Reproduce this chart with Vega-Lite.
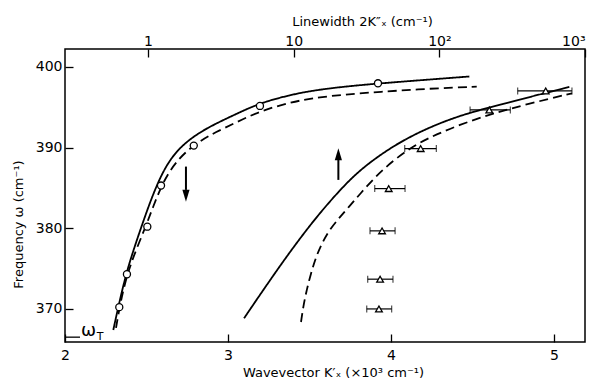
{
  "$schema": "https://vega.github.io/schema/vega-lite/v6.json",
  "width": 520,
  "height": 293,
  "autosize": "none",
  "padding": {"left": 65, "top": 49, "right": 11, "bottom": 39},
  "background": "white",
  "config": {
    "view": {"stroke": "black", "strokeWidth": 1.5},
    "font": "DejaVu Sans",
    "axis": {
      "domain": false, "grid": false,
      "tickColor": "black", "tickSize": -8, "tickWidth": 1.3,
      "labelColor": "black", "labelFont": "DejaVu Sans", "labelFontSize": 14,
      "titleFont": "DejaVu Sans", "titleFontSize": 13, "titleFontWeight": "normal", "titleColor": "black",
      "labelFlush": false, "labelOverlap": false
    }
  },
  "datasets": {
    "curves": [
      {"model": "m1", "branch": "I", "k": 2.2963, "w": 367.39},
      {"model": "m1", "branch": "I", "k": 2.3252, "w": 370.12},
      {"model": "m1", "branch": "I", "k": 2.3742, "w": 374.33},
      {"model": "m1", "branch": "I", "k": 2.4233, "w": 377.50},
      {"model": "m1", "branch": "I", "k": 2.4785, "w": 380.78},
      {"model": "m1", "branch": "I", "k": 2.5337, "w": 383.88},
      {"model": "m1", "branch": "I", "k": 2.5828, "w": 386.24},
      {"model": "m1", "branch": "I", "k": 2.6319, "w": 388.10},
      {"model": "m1", "branch": "I", "k": 2.6871, "w": 389.58},
      {"model": "m1", "branch": "I", "k": 2.7485, "w": 390.76},
      {"model": "m1", "branch": "I", "k": 2.8221, "w": 391.82},
      {"model": "m1", "branch": "I", "k": 2.9080, "w": 392.81},
      {"model": "m1", "branch": "I", "k": 3.0429, "w": 394.11},
      {"model": "m1", "branch": "I", "k": 3.1963, "w": 395.54},
      {"model": "m1", "branch": "I", "k": 3.3804, "w": 396.53},
      {"model": "m1", "branch": "I", "k": 3.5215, "w": 397.09},
      {"model": "m1", "branch": "I", "k": 3.7178, "w": 397.58},
      {"model": "m1", "branch": "I", "k": 3.9202, "w": 397.95},
      {"model": "m1", "branch": "I", "k": 4.2393, "w": 398.45},
      {"model": "m1", "branch": "I", "k": 4.4804, "w": 398.82},
      {"model": "m2", "branch": "I", "k": 2.3129, "w": 367.64},
      {"model": "m2", "branch": "I", "k": 2.3344, "w": 370.20},
      {"model": "m2", "branch": "I", "k": 2.3773, "w": 374.09},
      {"model": "m2", "branch": "I", "k": 2.4356, "w": 377.31},
      {"model": "m2", "branch": "I", "k": 2.4939, "w": 380.16},
      {"model": "m2", "branch": "I", "k": 2.5399, "w": 382.64},
      {"model": "m2", "branch": "I", "k": 2.5890, "w": 385.12},
      {"model": "m2", "branch": "I", "k": 2.6380, "w": 386.98},
      {"model": "m2", "branch": "I", "k": 2.6933, "w": 388.47},
      {"model": "m2", "branch": "I", "k": 2.7546, "w": 389.71},
      {"model": "m2", "branch": "I", "k": 2.8282, "w": 390.82},
      {"model": "m2", "branch": "I", "k": 2.9202, "w": 391.88},
      {"model": "m2", "branch": "I", "k": 3.0429, "w": 393.06},
      {"model": "m2", "branch": "I", "k": 3.1963, "w": 394.54},
      {"model": "m2", "branch": "I", "k": 3.3804, "w": 395.60},
      {"model": "m2", "branch": "I", "k": 3.5215, "w": 396.16},
      {"model": "m2", "branch": "I", "k": 3.7178, "w": 396.59},
      {"model": "m2", "branch": "I", "k": 3.9202, "w": 396.90},
      {"model": "m2", "branch": "I", "k": 4.2393, "w": 397.33},
      {"model": "m2", "branch": "I", "k": 4.5258, "w": 397.56},
      {"model": "m1", "branch": "II", "k": 3.0982, "w": 368.84},
      {"model": "m1", "branch": "II", "k": 3.2454, "w": 373.22},
      {"model": "m1", "branch": "II", "k": 3.3988, "w": 377.62},
      {"model": "m1", "branch": "II", "k": 3.5521, "w": 381.65},
      {"model": "m1", "branch": "II", "k": 3.6871, "w": 384.75},
      {"model": "m1", "branch": "II", "k": 3.8098, "w": 387.29},
      {"model": "m1", "branch": "II", "k": 4.0141, "w": 390.27},
      {"model": "m1", "branch": "II", "k": 4.2190, "w": 392.40},
      {"model": "m1", "branch": "II", "k": 4.4233, "w": 393.99},
      {"model": "m1", "branch": "II", "k": 4.6031, "w": 394.98},
      {"model": "m1", "branch": "II", "k": 4.8325, "w": 396.19},
      {"model": "m1", "branch": "II", "k": 5.0939, "w": 397.52},
      {"model": "m2", "branch": "II", "k": 3.4479, "w": 368.38},
      {"model": "m2", "branch": "II", "k": 3.4632, "w": 370.49},
      {"model": "m2", "branch": "II", "k": 3.4828, "w": 372.35},
      {"model": "m2", "branch": "II", "k": 3.5092, "w": 374.46},
      {"model": "m2", "branch": "II", "k": 3.5399, "w": 376.44},
      {"model": "m2", "branch": "II", "k": 3.5767, "w": 378.18},
      {"model": "m2", "branch": "II", "k": 3.6258, "w": 379.91},
      {"model": "m2", "branch": "II", "k": 3.6871, "w": 381.40},
      {"model": "m2", "branch": "II", "k": 3.7380, "w": 382.58},
      {"model": "m2", "branch": "II", "k": 3.8098, "w": 384.25},
      {"model": "m2", "branch": "II", "k": 3.9080, "w": 386.48},
      {"model": "m2", "branch": "II", "k": 4.0141, "w": 388.41},
      {"model": "m2", "branch": "II", "k": 4.1166, "w": 389.89},
      {"model": "m2", "branch": "II", "k": 4.2190, "w": 391.13},
      {"model": "m2", "branch": "II", "k": 4.4233, "w": 392.87},
      {"model": "m2", "branch": "II", "k": 4.6276, "w": 394.26},
      {"model": "m2", "branch": "II", "k": 4.8325, "w": 395.38},
      {"model": "m2", "branch": "II", "k": 5.1104, "w": 396.74}
    ],
    "circles": [
      {"k": 2.333, "w": 370.22},
      {"k": 2.380, "w": 374.3},
      {"k": 2.505, "w": 380.2},
      {"k": 2.589, "w": 385.3},
      {"k": 2.790, "w": 390.25},
      {"k": 3.196, "w": 395.17},
      {"k": 3.920, "w": 397.98}
    ],
    "triangles": [
      {"k": 3.926, "w": 370.0, "klo": 3.851, "khi": 4.004},
      {"k": 3.933, "w": 373.69, "klo": 3.857, "khi": 4.012},
      {"k": 3.945, "w": 379.68, "klo": 3.871, "khi": 4.025},
      {"k": 3.986, "w": 384.92, "klo": 3.900, "khi": 4.086},
      {"k": 4.182, "w": 389.88, "klo": 4.084, "khi": 4.278},
      {"k": 4.603, "w": 394.67, "klo": 4.485, "khi": 4.732},
      {"k": 4.949, "w": 397.03, "klo": 4.777, "khi": 5.110}
    ],
    "arrows": [
      {"k": 2.742, "w1": 387.65, "w2": 384.76, "wh": 384.03, "dir": "down"},
      {"k": 3.677, "w1": 386.0, "w2": 388.48, "wh": 389.18, "dir": "up"}
    ],
    "omegaT": [{"k1": 2.0, "k2": 2.092, "w": 366.5}],
    "labels": [
      {"k": 2.144, "w": 366.67, "t": "ω", "part": "main"},
      {"k": 2.215, "w": 366.17, "t": "T", "part": "sub"}
    ],
    "top": [{"lw": 1}, {"lw": 1000}]
  },
  "layer": [
    {
      "layer": [
        {
          "data": {"name": "curves"},
          "mark": {"type": "line", "stroke": "black", "strokeWidth": 1.8, "interpolate": "basis"},
          "encoding": {
            "x": {"field": "k", "type": "quantitative", "scale": {"domain": [2, 5.19], "nice": false, "zero": false},
                  "axis": {"orient": "bottom", "values": [2, 3, 4, 5], "format": "d", "title": "Wavevector  K′ₓ (×10³ cm⁻¹)", "labelPadding": 14, "titlePadding": 4, "titleX": 268}},
            "y": {"field": "w", "type": "quantitative", "scale": {"domain": [365.9, 402.23], "nice": false, "zero": false},
                  "axis": {"orient": "left", "values": [370, 380, 390, 400], "title": "Frequency  ω  (cm⁻¹)", "labelPadding": 11, "titlePadding": 10, "titleY": 175}},
            "strokeDash": {"field": "model", "type": "nominal", "scale": {"domain": ["m1", "m2"], "range": [[1, 0], [9, 5]]}, "legend": null},
            "detail": {"field": "branch"}
          }
        },
        {
          "data": {"name": "triangles"},
          "mark": {"type": "rule", "stroke": "black", "strokeWidth": 1.2},
          "encoding": {
            "x": {"field": "klo", "type": "quantitative", "title": "Wavevector  K′ₓ (×10³ cm⁻¹)"},
            "x2": {"field": "khi"},
            "y": {"field": "w", "type": "quantitative", "title": "Frequency  ω  (cm⁻¹)"}
          }
        },
        {
          "data": {"name": "triangles"},
          "mark": {"type": "tick", "orient": "vertical", "color": "black", "size": 7, "thickness": 1.2},
          "encoding": {
            "x": {"field": "klo", "type": "quantitative", "title": "Wavevector  K′ₓ (×10³ cm⁻¹)"},
            "y": {"field": "w", "type": "quantitative", "title": "Frequency  ω  (cm⁻¹)"}
          }
        },
        {
          "data": {"name": "triangles"},
          "mark": {"type": "tick", "orient": "vertical", "color": "black", "size": 7, "thickness": 1.2},
          "encoding": {
            "x": {"field": "khi", "type": "quantitative", "title": "Wavevector  K′ₓ (×10³ cm⁻¹)"},
            "y": {"field": "w", "type": "quantitative", "title": "Frequency  ω  (cm⁻¹)"}
          }
        },
        {
          "data": {"name": "triangles"},
          "mark": {"type": "point", "shape": "triangle-up", "size": 45, "fill": "white", "stroke": "black", "strokeWidth": 1.3, "opacity": 1},
          "encoding": {
            "x": {"field": "k", "type": "quantitative", "title": "Wavevector  K′ₓ (×10³ cm⁻¹)"},
            "y": {"field": "w", "type": "quantitative", "title": "Frequency  ω  (cm⁻¹)"}
          }
        },
        {
          "data": {"name": "circles"},
          "mark": {"type": "point", "shape": "circle", "size": 50, "fill": "white", "stroke": "black", "strokeWidth": 1.3, "opacity": 1},
          "encoding": {
            "x": {"field": "k", "type": "quantitative", "title": "Wavevector  K′ₓ (×10³ cm⁻¹)"},
            "y": {"field": "w", "type": "quantitative", "title": "Frequency  ω  (cm⁻¹)"}
          }
        },
        {
          "data": {"name": "arrows"},
          "mark": {"type": "rule", "stroke": "black", "strokeWidth": 2},
          "encoding": {
            "x": {"field": "k", "type": "quantitative", "title": "Wavevector  K′ₓ (×10³ cm⁻¹)"},
            "y": {"field": "w1", "type": "quantitative", "title": "Frequency  ω  (cm⁻¹)"},
            "y2": {"field": "w2"}
          }
        },
        {
          "data": {"name": "arrows"},
          "mark": {"type": "point", "filled": true, "size": 144, "color": "black", "opacity": 1},
          "encoding": {
            "x": {"field": "k", "type": "quantitative", "title": "Wavevector  K′ₓ (×10³ cm⁻¹)"},
            "y": {"field": "wh", "type": "quantitative", "title": "Frequency  ω  (cm⁻¹)"},
            "shape": {"field": "dir", "type": "nominal", "scale": {"domain": ["down", "up"], "range": ["M-0.6,-1L0.6,-1L0,1Z", "M-0.6,1L0.6,1L0,-1Z"]}, "legend": null}
          }
        },
        {
          "data": {"name": "omegaT"},
          "mark": {"type": "rule", "stroke": "black", "strokeWidth": 1.3},
          "encoding": {
            "x": {"field": "k1", "type": "quantitative", "title": "Wavevector  K′ₓ (×10³ cm⁻¹)"},
            "x2": {"field": "k2"},
            "y": {"field": "w", "type": "quantitative", "title": "Frequency  ω  (cm⁻¹)"}
          }
        },
        {
          "data": {"name": "labels"},
          "transform": [{"filter": "datum.part == 'main'"}],
          "mark": {"type": "text", "fontSize": 18, "baseline": "alphabetic", "align": "center", "color": "black", "font": "DejaVu Sans"},
          "encoding": {
            "x": {"field": "k", "type": "quantitative", "title": "Wavevector  K′ₓ (×10³ cm⁻¹)"},
            "y": {"field": "w", "type": "quantitative", "title": "Frequency  ω  (cm⁻¹)"},
            "text": {"field": "t"}
          }
        },
        {
          "data": {"name": "labels"},
          "transform": [{"filter": "datum.part == 'sub'"}],
          "mark": {"type": "text", "fontSize": 11, "baseline": "alphabetic", "align": "center", "color": "black", "font": "DejaVu Sans"},
          "encoding": {
            "x": {"field": "k", "type": "quantitative", "title": "Wavevector  K′ₓ (×10³ cm⁻¹)"},
            "y": {"field": "w", "type": "quantitative", "title": "Frequency  ω  (cm⁻¹)"},
            "text": {"field": "t"}
          }
        }
      ]
    },
    {
      "data": {"name": "top"},
      "mark": {"type": "point", "opacity": 0},
      "encoding": {
        "x": {"field": "lw", "type": "quantitative",
              "scale": {"type": "log", "domain": [0.269, 1000], "nice": false},
              "axis": {"orient": "top", "values": [1, 10, 100, 1000], "title": "Linewidth  2K″ₓ (cm⁻¹)",
                       "labelExpr": "datum.value == 100 ? '10²' : datum.value == 1000 ? '10³' : format(datum.value, 'd')",
                       "labelFlush": true, "labelPadding": 9, "titlePadding": 6, "titleFontSize": 13, "titleX": 297}}
      }
    }
  ],
  "resolve": {"scale": {"x": "independent"}, "axis": {"x": "independent"}}
}
